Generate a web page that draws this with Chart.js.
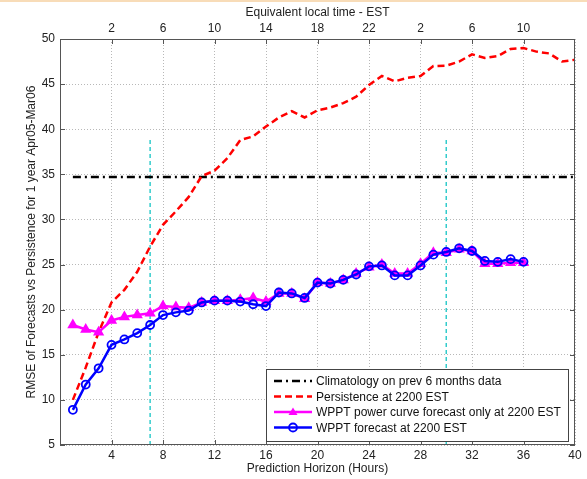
<!DOCTYPE html>
<html lang="en">
<head>
<meta charset="UTF-8">
<title>RMSE of Forecasts vs Persistence</title>
<script src="https://cdn.jsdelivr.net/npm/chart.js"></script>
<style>
  body { margin: 0; background: #fff; }
  #grafico { display: block; }
</style>
</head>
<body>

<canvas id="grafico" width="587" height="479"></canvas>

<script>
// Horizonte de previsao (horas)
const horas = [1, 2, 3, 4, 5, 6, 7, 8, 9, 10, 11, 12, 13, 14, 15, 16, 17, 18, 19, 20,
               21, 22, 23, 24, 25, 26, 27, 28, 29, 30, 31, 32, 33, 34, 35, 36, 37, 38, 39, 40];

// Persistence at 2200 EST
const persistencia = [10.0, 13.6, 17.5, 20.8, 22.2, 24.2, 27.0, 29.4, 30.9, 32.5,
                      34.8, 35.4, 36.8, 38.8, 39.2, 40.3, 41.3, 42.0, 41.3, 42.1,
                      42.4, 42.9, 43.6, 44.9, 45.9, 45.3, 45.7, 45.9, 47.0, 47.05,
                      47.5, 48.3, 47.9, 48.1, 48.9, 49.0, 48.6, 48.4, 47.5, 47.7];

// WPPT power curve forecast only at 2200 EST (horas 1..36)
const wpptCurva = [18.3, 17.8, 17.5, 18.8, 19.2, 19.4, 19.6, 20.4, 20.3, 20.2,
                   20.8, 21.0, 21.0, 21.1, 21.3, 20.9, 21.8, 21.8, 21.2, 23.0,
                   22.9, 23.3, 24.0, 24.7, 25.0, 24.0, 24.0, 25.1, 26.3, 26.3,
                   26.7, 26.5, 25.1, 25.1, 25.2, 25.2];

// WPPT forecast at 2200 EST (horas 1..36)
const wpptPrevisao = [8.9, 11.7, 13.5, 16.1, 16.7, 17.4, 18.3, 19.4, 19.7, 19.9,
                      20.8, 21.0, 21.0, 20.9, 20.6, 20.4, 21.9, 21.8, 21.3, 23.0,
                      22.9, 23.3, 23.9, 24.8, 24.9, 23.8, 23.8, 24.9, 26.1, 26.4,
                      26.8, 26.5, 25.4, 25.3, 25.6, 25.3];

// Climatology on prev 6 months data (linha constante)
const climatologia = 34.7;
const climatologiaHoras = [1, 40];

// linhas verticais ciano
const marcadores = [7, 30];
const marcadorFaixa = [5, 39];

// rotulos dos eixos
const ticksX = [4, 8, 12, 16, 20, 24, 28, 32, 36, 40];
const ticksY = [5, 10, 15, 20, 25, 30, 35, 40, 45, 50];
const ticksTopo = [4, 8, 12, 16, 20, 24, 28, 32, 36];
const rotulosTopo = ['2', '6', '10', '14', '18', '22', '2', '6', '10'];

const fonte = "'Liberation Sans', Arial, sans-serif";

function pontos(xs, ys) {
    return ys.map(function (v, i) { return { x: xs[i], y: v }; });
}

// Monta os datasets
const datasets = [
    {
        label: 'WPPT forecast at 2200 EST',
        data: pontos(horas, wpptPrevisao),
        borderColor: '#0000ff',
        backgroundColor: '#0000ff',
        borderWidth: 2.5,
        pointStyle: 'circle',
        pointRadius: 4,
        pointBorderWidth: 1.8,
        pointBackgroundColor: 'rgba(0,0,0,0)',
        pointBorderColor: '#0000ff',
        order: 1
    },
    {
        label: 'WPPT power curve forecast only at 2200 EST',
        data: pontos(horas, wpptCurva),
        borderColor: '#ff00ff',
        backgroundColor: '#ff00ff',
        borderWidth: 2.5,
        pointStyle: 'triangle',
        pointRadius: 4,
        pointBackgroundColor: '#ff00ff',
        pointBorderColor: '#ff00ff',
        order: 2
    },
    {
        label: 'Persistence at 2200 EST',
        data: pontos(horas, persistencia),
        borderColor: '#ff0000',
        borderWidth: 2.5,
        borderDash: [7, 4],
        pointRadius: 0,
        order: 3
    },
    {
        label: 'Climatology on prev 6 months data',
        data: climatologiaHoras.map(function (h) { return { x: h, y: climatologia }; }),
        borderColor: '#000000',
        borderWidth: 2.5,
        borderDash: [8, 4, 2, 4],
        pointRadius: 0,
        order: 4
    }
];

marcadores.forEach(function (h) {
    datasets.push({
        label: 'marcador',
        data: marcadorFaixa.map(function (v) { return { x: h, y: v }; }),
        borderColor: '#33cccc',
        borderWidth: 1.5,
        borderDash: [4, 3],
        pointRadius: 0,
        order: 5
    });
});

// Moldura, ticks internos e legenda (estilo MATLAB)
const moldura = {
    id: 'moldura',
    beforeDraw: function (chart) {
        const ctx = chart.ctx;
        ctx.save();
        ctx.fillStyle = '#ffffff';
        ctx.fillRect(0, 0, chart.width, chart.height);
        ctx.fillStyle = '#f8dcb8';
        ctx.fillRect(0, 0, chart.width, 2);
        ctx.restore();
    },
    afterDraw: function (chart) {
        const ctx = chart.ctx;
        const a = chart.chartArea;
        const sx = chart.scales.x;
        const sy = chart.scales.y;
        ctx.save();
        ctx.strokeStyle = '#555555';
        ctx.lineWidth = 1;
        ctx.strokeRect(a.left + 0.5, a.top + 0.5, a.right - a.left - 1, a.bottom - a.top - 1);

        // ticks internos
        ctx.beginPath();
        ticksTopo.forEach(function (h) {
            const px = Math.round(sx.getPixelForValue(h)) + 0.5;
            ctx.moveTo(px, a.bottom); ctx.lineTo(px, a.bottom - 5);
            ctx.moveTo(px, a.top); ctx.lineTo(px, a.top + 5);
        });
        ticksY.forEach(function (v) {
            const py = Math.round(sy.getPixelForValue(v)) + 0.5;
            ctx.moveTo(a.left, py); ctx.lineTo(a.left + 5, py);
            ctx.moveTo(a.right, py); ctx.lineTo(a.right - 5, py);
        });
        ctx.stroke();

        // legenda
        const lx = a.right - 309;
        const ly = a.bottom - 76;
        const lw = 302;
        const lh = 72;
        ctx.fillStyle = '#ffffff';
        ctx.fillRect(lx, ly, lw, lh);
        ctx.strokeStyle = '#444444';
        ctx.strokeRect(lx + 0.5, ly + 0.5, lw, lh);

        const itens = [datasets[3], datasets[2], datasets[1], datasets[0]];
        ctx.font = '12px ' + fonte;
        ctx.textBaseline = 'middle';
        itens.forEach(function (d, i) {
            const y = ly + 12 + i * 15.5;
            const x0 = lx + 8;
            const x1 = lx + 46;
            ctx.save();
            ctx.strokeStyle = d.borderColor;
            ctx.lineWidth = 2.5;
            ctx.setLineDash(d.borderDash || []);
            ctx.beginPath();
            ctx.moveTo(x0, y);
            ctx.lineTo(x1, y);
            ctx.stroke();
            ctx.restore();
            const cx = (x0 + x1) / 2;
            if (d.pointStyle === 'triangle') {
                ctx.fillStyle = d.borderColor;
                ctx.beginPath();
                ctx.moveTo(cx, y - 4.5);
                ctx.lineTo(cx + 4.5, y + 3);
                ctx.lineTo(cx - 4.5, y + 3);
                ctx.closePath();
                ctx.fill();
            } else if (d.pointStyle === 'circle') {
                ctx.strokeStyle = d.borderColor;
                ctx.lineWidth = 1.8;
                ctx.beginPath();
                ctx.arc(cx, y, 4, 0, Math.PI * 2);
                ctx.stroke();
            }
            ctx.fillStyle = '#111111';
            ctx.fillText(d.label, x1 + 4, y + 1);
        });
        ctx.restore();
    }
};

new Chart(document.getElementById('grafico'), {
    type: 'line',
    data: { datasets: datasets },
    options: {
        responsive: false,
        animation: false,
        layout: { padding: { right: 12 } },
        plugins: {
            legend: { display: false },
            tooltip: { enabled: false }
        },
        elements: { line: { tension: 0 } },
        scales: {
            x: {
                type: 'linear',
                position: 'bottom',
                min: 0,
                max: 40,
                afterFit: function (s) { s.height = 34; },
                afterBuildTicks: function (s) { s.ticks = ticksX.map(function (v) { return { value: v }; }); },
                ticks: {
                    padding: 3,
                    maxRotation: 0,
                    color: '#222222',
                    font: { family: fonte, size: 12 }
                },
                grid: { color: '#b8b8b8', lineWidth: 1, drawTicks: false },
                border: { display: false, dash: [1, 2] },
                title: {
                    display: true,
                    text: 'Prediction Horizon (Hours)',
                    color: '#222222',
                    font: { family: fonte, size: 12 },
                    padding: { top: 0, bottom: 3 }
                }
            },
            x2: {
                type: 'linear',
                position: 'top',
                min: 0,
                max: 40,
                afterFit: function (s) { s.height = 39; },
                afterBuildTicks: function (s) { s.ticks = ticksTopo.map(function (v) { return { value: v }; }); },
                ticks: {
                    padding: 3,
                    maxRotation: 0,
                    color: '#222222',
                    font: { family: fonte, size: 12 },
                    callback: function (v) { return rotulosTopo[ticksTopo.indexOf(v)]; }
                },
                grid: { display: false, drawTicks: false },
                border: { display: false },
                title: {
                    display: true,
                    text: 'Equivalent local time - EST',
                    color: '#222222',
                    font: { family: fonte, size: 12 },
                    padding: { top: 5, bottom: 0 }
                }
            },
            y: {
                type: 'linear',
                min: 5,
                max: 50,
                afterFit: function (s) { s.width = 60; },
                afterBuildTicks: function (s) { s.ticks = ticksY.map(function (v) { return { value: v }; }); },
                ticks: {
                    padding: 5,
                    color: '#222222',
                    font: { family: fonte, size: 12 }
                },
                grid: { color: '#b8b8b8', lineWidth: 1, drawTicks: false },
                border: { display: false, dash: [1, 2] },
                title: {
                    display: true,
                    text: 'RMSE of Forecasts vs Persistence for 1 year Apr05-Mar06',
                    color: '#222222',
                    font: { family: fonte, size: 12 },
                    padding: { top: 24, bottom: 0 }
                }
            }
        }
    },
    plugins: [moldura]
});
</script>
</body>
</html>
